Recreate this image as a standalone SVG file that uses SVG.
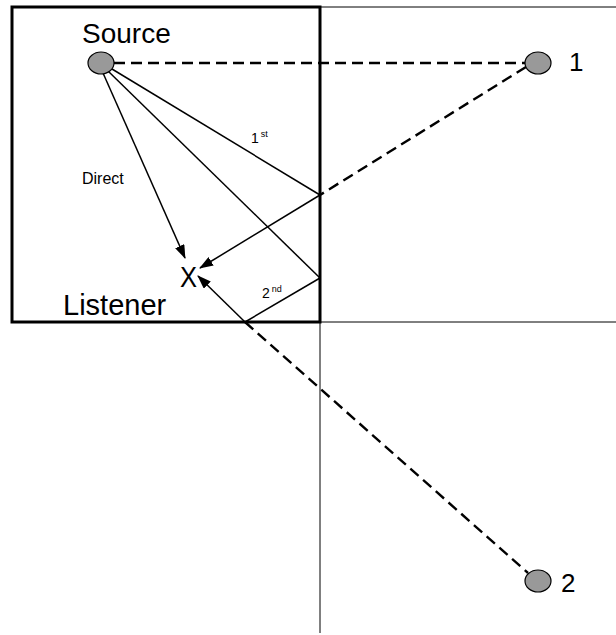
<svg xmlns="http://www.w3.org/2000/svg" width="616" height="635" viewBox="0 0 616 635">
<style>
text{font-family:"Liberation Sans",Arial,sans-serif;fill:#000}
.thin{stroke:#000;stroke-width:1;fill:none}
.solid{stroke:#000;stroke-width:1.5;fill:none}
.dash{stroke:#000;stroke-width:2.4;fill:none;stroke-dasharray:11 6}
.src{fill:#999;stroke:#000;stroke-width:1.2}
</style>
<defs>
<marker id="ah" markerWidth="14" markerHeight="10" refX="13" refY="5" orient="auto" markerUnits="userSpaceOnUse">
<path d="M0,0 L14,5 L0,10 Z" fill="#000"/>
</marker>
</defs>
<rect width="616" height="635" fill="#fff"/>
<g id="walls">
<line class="thin" x1="320" y1="7" x2="616" y2="7"/>
<line class="thin" x1="320" y1="322" x2="616" y2="322"/>
<line class="thin" x1="320" y1="7" x2="320" y2="633"/>
<rect x="12" y="7" width="308" height="315" fill="none" stroke="#000" stroke-width="3"/>
</g>
<g id="connectors">
<line class="dash" x1="114" y1="63" x2="525" y2="63"/>
<line class="dash" x1="526" y1="67" x2="320" y2="195"/>
<line class="dash" x1="245" y1="322" x2="528" y2="573"/>
<line class="solid" x1="103" y1="73" x2="185" y2="258" marker-end="url(#ah)"/>
<line class="solid" x1="112" y1="69" x2="320" y2="195"/>
<line class="solid" x1="320" y1="195" x2="200" y2="268" marker-end="url(#ah)"/>
<line class="solid" x1="108" y1="71" x2="320" y2="278"/>
<line class="solid" x1="320" y1="278" x2="245" y2="322"/>
<line class="solid" x1="245" y1="322" x2="198" y2="276" marker-end="url(#ah)"/>
</g>
<g id="source">
<ellipse class="src" cx="101" cy="63" rx="13" ry="11"/>
<text x="82" y="43" font-size="28">Source</text>
</g>
<g id="image1">
<ellipse class="src" cx="538" cy="63" rx="13" ry="11"/>
<text x="569" y="71" font-size="26">1</text>
</g>
<g id="image2">
<ellipse class="src" cx="538" cy="581" rx="13" ry="11"/>
<text x="561" y="592" font-size="26">2</text>
</g>
<g id="listener">
<text x="180" y="287" font-size="30" transform="translate(180 287) scale(0.85 1) translate(-180 -287)">X</text>
<text x="63" y="315" font-size="29">Listener</text>
</g>
<g id="labels">
<text x="82" y="184" font-size="16">Direct</text>
<text x="251" y="143" font-size="14">1<tspan font-size="9" dx="2" dy="-6">st</tspan></text>
<text x="262" y="298" font-size="14">2<tspan font-size="9" dx="2" dy="-6">nd</tspan></text>
</g>
</svg>
